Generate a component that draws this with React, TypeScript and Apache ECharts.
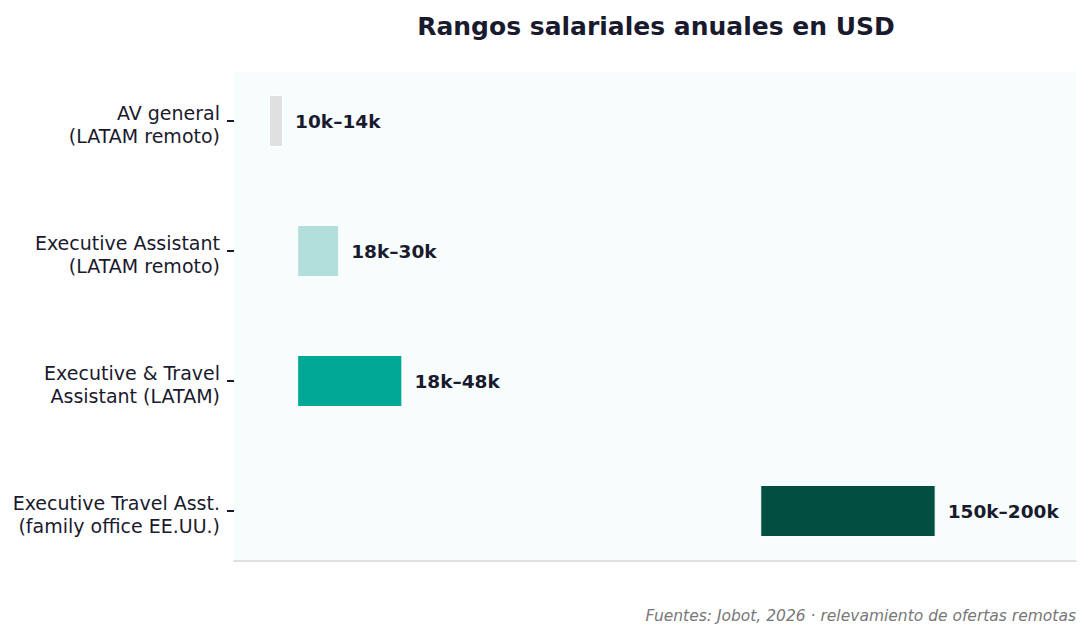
import React, { useEffect, useRef } from "react";
import * as echarts from "echarts";

const categories = [
  "AV general\n(LATAM remoto)",
  "Executive Assistant\n(LATAM remoto)",
  "Executive & Travel\nAssistant (LATAM)",
  "Executive Travel Asst.\n(family office EE.UU.)",
];
const minValues = [10, 18, 18, 150];
const maxValues = [14, 30, 48, 200];
const rangeLabels = ["10k–14k", "18k–30k", "18k–48k", "150k–200k"];
const barColors = ["#e0e0e0", "#b2dfdb", "#00a896", "#024f41"];

export default function App() {
  const ref = useRef<HTMLDivElement>(null);
  useEffect(() => {
    document.body.style.margin = "0";
    if (!ref.current) return;
    const chart = echarts.init(ref.current, undefined, { renderer: "svg" });
    const font = "DejaVu Sans";
    chart.setOption({
      animation: false,
      backgroundColor: "#ffffff",
      title: {
        text: "Rangos salariales anuales en USD",
        left: 651,
        top: 9,
        textAlign: "center",
        textStyle: { fontFamily: font, fontSize: 25, fontWeight: "bold", color: "#1a1a2e" },
      },
      graphic: [
        {
          type: "text",
          right: 15,
          top: 608,
          style: {
            text: "Fuentes: Jobot, 2026 · relevamiento de ofertas remotas",
            font: `italic 15.5px ${font}`,
            fill: "#777777",
          },
        },
      ],
      grid: [
        {
          left: 234,
          right: 15,
          top: 72,
          bottom: 77,
          show: true,
          backgroundColor: "#f7fdfd",
          borderWidth: 0,
        },
        {
          left: 234,
          right: 15,
          top: 56,
          bottom: 62,
          show: false,
        },
      ],
      xAxis: [
        {
          type: "value",
          gridIndex: 0,
          min: 0,
          max: 240,
          axisLabel: { show: false },
          splitLine: { show: false },
          axisTick: { show: false },
          axisLine: { show: true, lineStyle: { color: "#e0e0e0", width: 2 } },
        },
        {
          type: "value",
          gridIndex: 1,
          min: 0,
          max: 240,
          axisLabel: { show: false },
          splitLine: { show: false },
          axisTick: { show: false },
          axisLine: { show: false },
        },
      ],
      yAxis: [
        {
          type: "category",
          gridIndex: 0,
          show: false,
          data: categories,
        },
        {
          type: "category",
          gridIndex: 1,
          inverse: true,
          data: categories,
          axisLine: { show: false },
          axisTick: { show: true, length: 7, alignWithLabel: true, lineStyle: { color: "#1a1a2e", width: 2 } },
          axisLabel: {
            margin: 14,
            fontFamily: font,
            fontSize: 19,
            lineHeight: 23,
            color: "#1a1a2e",
            align: "right",
            formatter: (v: string) =>
              "{s| }\n" + v.split("\n").map((l) => `{a|${l}}`).join("\n"),
            rich: {
              s: { fontSize: 1, lineHeight: 6 },
              a: { fontFamily: font, fontSize: 19, lineHeight: 23, color: "#1a1a2e" },
            },
          },
        },
      ],
      series: [
        {
          type: "bar",
          stack: "r",
          xAxisIndex: 1,
          yAxisIndex: 1,
          data: minValues,
          itemStyle: { color: "transparent" },
          barWidth: 52,
          silent: true,
        },
        {
          type: "bar",
          stack: "r",
          xAxisIndex: 1,
          yAxisIndex: 1,
          barWidth: 52,
          data: maxValues.map((v, i) => ({
            value: v - minValues[i],
            itemStyle: { color: barColors[i], borderColor: "#ffffff", borderWidth: 1 },
          })),
          label: {
            show: true,
            position: "right",
            distance: 12,
            formatter: (p: any) => rangeLabels[p.dataIndex],
            fontFamily: font,
            fontSize: 18.5,
            fontWeight: "bold",
            color: "#1a1a2e",
          },
        },
      ],
    });
    return () => chart.dispose();
  }, []);
  return <div ref={ref} style={{ width: 1091, height: 638 }} />;
}
